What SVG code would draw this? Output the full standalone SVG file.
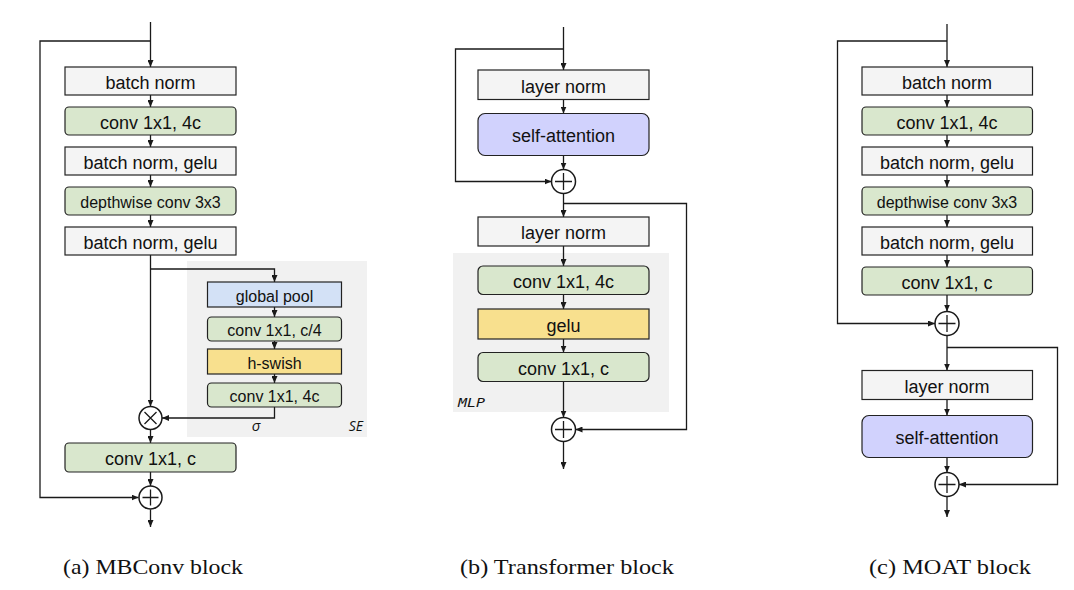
<svg xmlns="http://www.w3.org/2000/svg" width="1074" height="590" viewBox="0 0 1074 590">
<style>
.bx{stroke:#222;stroke-width:1.2}
.gray{fill:#f4f4f4}
.green{fill:#d9e7cd}
.blue{fill:#d3e1f6}
.yellow{fill:#f8e08e}
.purple{fill:#d1d2fd}
.bg{fill:#f1f1f1}
.t{font-family:"Liberation Sans",Arial,sans-serif;font-size:18px;fill:#111;text-anchor:middle;dominant-baseline:central;transform:translate(0px,1.5px)}
.ts{font-size:16px}
.ln{fill:none;stroke:#1a1a1a;stroke-width:1.3}
.ar{marker-end:url(#ah)}
.op{fill:#fff;stroke:#1a1a1a;stroke-width:1.5}
.cap{font-family:"Liberation Serif","Times New Roman",serif;font-size:21px;fill:#111}
.it{font-family:"Open Sans","DejaVu Sans",sans-serif;font-style:italic;fill:#111}
</style>
<defs>
<marker id="ah" markerUnits="userSpaceOnUse" markerWidth="7" markerHeight="6" refX="7" refY="3" orient="auto">
<path d="M0,0 L7,3 L0,6 z" fill="#1a1a1a"/>
</marker>
</defs>
<rect width="1074" height="590" fill="#fff"/>

<!-- backgrounds -->
<rect id="se-bg" class="bg" x="187" y="261" width="180" height="176"/>
<rect id="mlp-bg" class="bg" x="453" y="253" width="216" height="159"/>

<!-- connectors -->
<g id="connectors">
<!-- panel a -->
<path class="ln ar" d="M150.5,22 V67"/>
<path class="ln ar" d="M150.5,41 H40 V497.5 H138.5"/>
<path class="ln ar" d="M150.5,95 V107"/>
<path class="ln ar" d="M150.5,135 V147"/>
<path class="ln ar" d="M150.5,175 V187"/>
<path class="ln ar" d="M150.5,215 V227"/>
<path class="ln ar" d="M150.5,255 V406.5"/>
<path class="ln ar" d="M150.5,269 H274.5 V282"/>
<path class="ln ar" d="M274.5,307 V317"/>
<path class="ln ar" d="M274.5,341 V349"/>
<path class="ln ar" d="M274.5,374 V383"/>
<path class="ln ar" d="M274.5,407 V418 H162"/>
<path class="ln ar" d="M150.5,429.5 V443"/>
<path class="ln ar" d="M150.5,472 V486"/>
<path class="ln ar" d="M150.5,509.5 V527"/>
<!-- panel b -->
<path class="ln ar" d="M563.5,27 V70"/>
<path class="ln ar" d="M563.5,49 H455.5 V181.5 H551.5"/>
<path class="ln ar" d="M563.5,99.5 V113.5"/>
<path class="ln ar" d="M563.5,155.5 V169.5"/>
<path class="ln ar" d="M563.5,193.5 V217"/>
<path class="ln ar" d="M563.5,203.5 H686.5 V429.5 H575.5"/>
<path class="ln ar" d="M563.5,246 V266"/>
<path class="ln ar" d="M563.5,294 V309"/>
<path class="ln ar" d="M563.5,339 V352.5"/>
<path class="ln ar" d="M563.5,381.5 V417.5"/>
<path class="ln ar" d="M563.5,441.5 V469"/>
<!-- panel c -->
<path class="ln ar" d="M947,24 V67"/>
<path class="ln ar" d="M947,41 H837.5 V323.5 H935"/>
<path class="ln ar" d="M947,95 V107"/>
<path class="ln ar" d="M947,135 V147"/>
<path class="ln ar" d="M947,175 V187"/>
<path class="ln ar" d="M947,215 V227"/>
<path class="ln ar" d="M947,255 V267"/>
<path class="ln ar" d="M947,295 V311.5"/>
<path class="ln ar" d="M947,335.5 V370.5"/>
<path class="ln ar" d="M947,347.5 H1057.5 V484.5 H959"/>
<path class="ln ar" d="M947,399.5 V415.5"/>
<path class="ln ar" d="M947,457.5 V472.5"/>
<path class="ln ar" d="M947,496.5 V517"/>
</g>

<!-- panel a nodes -->
<g id="a-bn1"><rect class="bx gray" x="65" y="67" width="171" height="28"/><text class="t" x="150.5" y="81">batch norm</text></g>
<g id="a-conv1"><rect class="bx green" x="65" y="107" width="171" height="28" rx="4"/><text class="t" x="150.5" y="121">conv 1x1, 4c</text></g>
<g id="a-bn2"><rect class="bx gray" x="65" y="147" width="171" height="28"/><text class="t" x="150.5" y="161">batch norm, gelu</text></g>
<g id="a-dw"><rect class="bx green" x="65" y="187" width="171" height="28" rx="4"/><text class="t ts" x="150.5" y="201">depthwise conv 3x3</text></g>
<g id="a-bn3"><rect class="bx gray" x="65" y="227" width="171" height="28"/><text class="t" x="150.5" y="241">batch norm, gelu</text></g>
<g id="a-gp"><rect class="bx blue" x="207.5" y="282" width="134" height="25"/><text class="t ts" x="274.5" y="294.5">global pool</text></g>
<g id="a-se1"><rect class="bx green" x="207.5" y="317" width="134" height="24" rx="4"/><text class="t ts" x="274.5" y="329">conv 1x1, c/4</text></g>
<g id="a-hs"><rect class="bx yellow" x="207.5" y="349" width="134" height="25"/><text class="t ts" x="274.5" y="361.5">h-swish</text></g>
<g id="a-se2"><rect class="bx green" x="207.5" y="383" width="134" height="24" rx="4"/><text class="t ts" x="274.5" y="395">conv 1x1, 4c</text></g>
<g id="a-mul"><circle class="op" cx="150.5" cy="418" r="11.5"/><path class="ln" d="M144.5,412 L156.5,424 M156.5,412 L144.5,424"/></g>
<g id="a-conv2"><rect class="bx green" x="65" y="443" width="171" height="29" rx="4"/><text class="t" x="150.5" y="457.5">conv 1x1, c</text></g>
<g id="a-add"><circle class="op" cx="150.5" cy="497.5" r="11.5"/><path class="ln" d="M142.5,497.5 H158.5 M150.5,489.5 V505.5"/></g>
<text class="it" x="256" y="431" font-size="15" text-anchor="middle">σ</text>
<text class="it" x="363" y="431" font-size="14" text-anchor="end">SE</text>

<!-- panel b nodes -->
<g id="b-ln1"><rect class="bx gray" x="478" y="70" width="171" height="29.5"/><text class="t" x="563.5" y="85">layer norm</text></g>
<g id="b-sa"><rect class="bx purple" x="478" y="113.5" width="171" height="42" rx="7"/><text class="t" x="563.5" y="134.5">self-attention</text></g>
<g id="b-add1"><circle class="op" cx="563.5" cy="181.5" r="12"/><path class="ln" d="M555,181.5 H572 M563.5,173 V190"/></g>
<g id="b-ln2"><rect class="bx gray" x="478" y="217" width="171" height="29"/><text class="t" x="563.5" y="231.5">layer norm</text></g>
<g id="b-conv1"><rect class="bx green" x="478" y="266" width="171" height="28.5" rx="5"/><text class="t" x="563.5" y="280">conv 1x1, 4c</text></g>
<g id="b-gelu"><rect class="bx yellow" x="478" y="309" width="171" height="30"/><text class="t" x="563.5" y="324">gelu</text></g>
<g id="b-conv2"><rect class="bx green" x="478" y="352.5" width="171" height="29" rx="5"/><text class="t" x="563.5" y="367">conv 1x1, c</text></g>
<g id="b-add2"><circle class="op" cx="563.5" cy="429.5" r="12"/><path class="ln" d="M555,429.5 H572 M563.5,421 V438"/></g>
<text x="458" y="407" font-family="'DejaVu Sans Mono',monospace" font-style="italic" font-size="12" fill="#111" textLength="27" lengthAdjust="spacingAndGlyphs">MLP</text>

<!-- panel c nodes -->
<g id="c-bn1"><rect class="bx gray" x="862" y="67" width="170.5" height="28"/><text class="t" x="947" y="81">batch norm</text></g>
<g id="c-conv1"><rect class="bx green" x="862" y="107" width="170.5" height="28" rx="4"/><text class="t" x="947" y="121">conv 1x1, 4c</text></g>
<g id="c-bn2"><rect class="bx gray" x="862" y="147" width="170.5" height="28"/><text class="t" x="947" y="161">batch norm, gelu</text></g>
<g id="c-dw"><rect class="bx green" x="862" y="187" width="170.5" height="28" rx="4"/><text class="t ts" x="947" y="201">depthwise conv 3x3</text></g>
<g id="c-bn3"><rect class="bx gray" x="862" y="227" width="170.5" height="28"/><text class="t" x="947" y="241">batch norm, gelu</text></g>
<g id="c-conv2"><rect class="bx green" x="862" y="267" width="170.5" height="28" rx="4"/><text class="t" x="947" y="281">conv 1x1, c</text></g>
<g id="c-add1"><circle class="op" cx="947" cy="323.5" r="12"/><path class="ln" d="M938.5,323.5 H955.5 M947,315 V332"/></g>
<g id="c-ln"><rect class="bx gray" x="862" y="370.5" width="170.5" height="29"/><text class="t" x="947" y="385">layer norm</text></g>
<g id="c-sa"><rect class="bx purple" x="862" y="415.5" width="170.5" height="42" rx="7"/><text class="t" x="947" y="436.5">self-attention</text></g>
<g id="c-add2"><circle class="op" cx="947" cy="484.5" r="12"/><path class="ln" d="M938.5,484.5 H955.5 M947,476 V493"/></g>

<!-- captions -->
<text class="cap" x="63" y="573.5" textLength="180" lengthAdjust="spacingAndGlyphs">(a) MBConv block</text>
<text class="cap" x="460" y="573.5" textLength="214" lengthAdjust="spacingAndGlyphs">(b) Transformer block</text>
<text class="cap" x="869" y="573.5" textLength="162" lengthAdjust="spacingAndGlyphs">(c) MOAT block</text>
</svg>
